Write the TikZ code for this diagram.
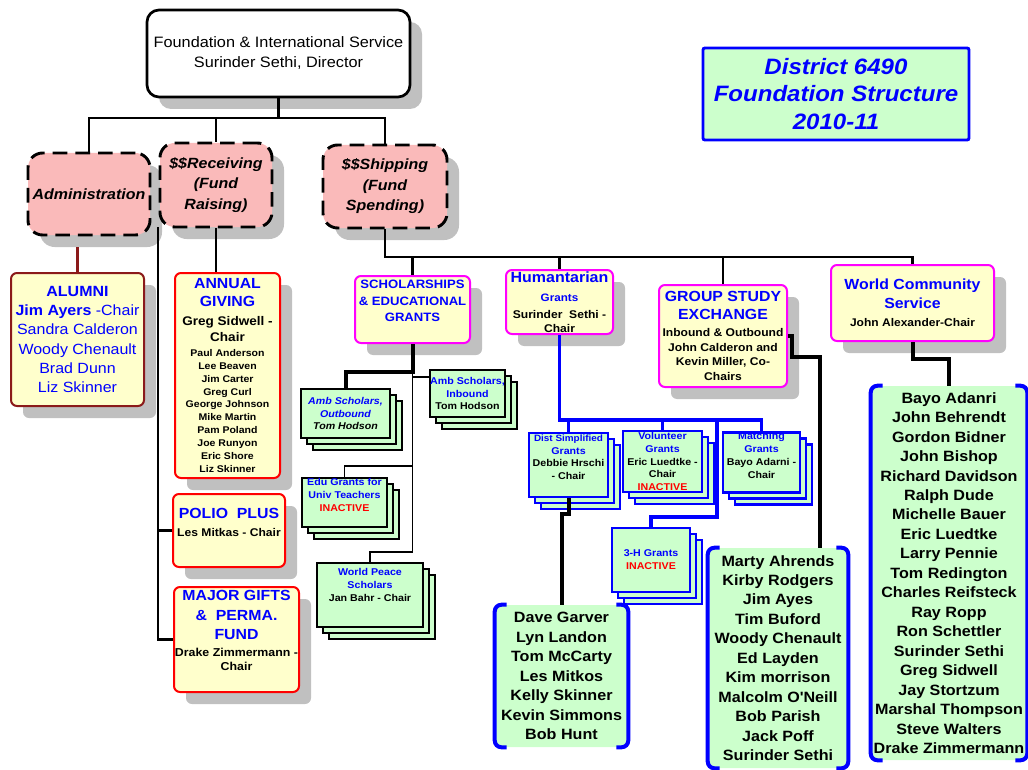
\documentclass[tikz,border=0pt]{standalone}
\usepackage{fontspec}
\setmainfont{Liberation Sans}[FakeStretch=1.08]
\usetikzlibrary{shadows}
\definecolor{pinkfill}{RGB}{250,186,186}
\definecolor{yelfill}{RGB}{255,255,204}
\definecolor{grnfill}{RGB}{204,255,204}
\definecolor{shgray}{RGB}{192,192,192}
\definecolor{dkred}{RGB}{139,26,26}
\definecolor{txtblue}{RGB}{0,0,255}
\definecolor{magbord}{RGB}{255,0,255}
\newcommand\fsz[2]{\fontsize{#1}{#2}\selectfont}
\newcommand\nolsl{\lineskiplimit=-30pt\relax}
\newcommand\hd[1]{{\color{txtblue}\fsz{11}{13}#1}}
\newcommand\dpt[1]{\rule[-#1]{0pt}{#1}}
\tikzset{
  bx/.code args={#1/#2/#3/#4}{%
    \pgfmathsetmacro\bxw{(#3-#1)*0.75}%
    \pgfmathsetmacro\bxh{(#4-#2)*0.75}%
    \pgfmathsetmacro\bxcx{(#1+#3)/2}%
    \pgfmathsetmacro\bxcy{(#2+#4)/2}%
    \edef\bxtmp{\noexpand\tikzset{minimum width=\bxw pt, minimum height=\bxh pt, at={(\bxcx,\bxcy)}}}%
    \bxtmp
  },
  shadowed/.style={drop shadow={shadow xshift=9pt, shadow yshift=-9pt, fill=shgray, opacity=1}},
  base/.style={inner sep=0pt, align=center},
  topbox/.style={base, draw=black, line width=2pt, fill=white, rounded corners=9pt, shadowed},
  titlebox/.style={base, draw=txtblue, line width=2.2pt, fill=grnfill, rounded corners=1.5pt, text=txtblue},
  pinkbox/.style={base, draw=black, line width=2.2pt, dash pattern=on 11pt off 6pt, fill=pinkfill,
     rounded corners=11pt, shadowed, font=\bfseries\itshape\fsz{11.1}{15.4}},
  yelbox/.style={base, draw=#1, line width=1.5pt, fill=yelfill, rounded corners=4.5pt, shadowed},
  stackbox/.style 2 args={base, draw=#1, line width=#2, fill=grnfill,
     copy shadow={shadow xshift=9pt, shadow yshift=-9pt, fill=grnfill, draw=#1, line width=#2, opacity=1},
     copy shadow={shadow xshift=4.5pt, shadow yshift=-4.5pt, fill=grnfill, draw=#1, line width=#2, opacity=1},
     font=\bfseries\fsz{7.4}{9.7}\nolsl},
  membox/.style={base, fill=grnfill, rounded corners=4pt, font=\bfseries\fsz{11.2}{14.6}},
  bracket/.style={draw=txtblue, line width=3pt, rounded corners=5pt},
  conn/.style={draw=black, line width=2pt},
  thickconn/.style={draw=black, line width=3pt},
  thinconn/.style={draw=black, line width=1.2pt},
  blueconn/.style={draw=txtblue, line width=2.4pt},
  redconn/.style={draw=dkred, line width=2pt},
}
\begin{document}
\begin{tikzpicture}[x=0.75pt, y=-0.75pt]
\useasboundingbox (0,0) rectangle (1028,770);

% top and title
\node[topbox, bx=147/10/410/97, font=\fsz{11.3}{15}] (top) {Foundation \& International Service\\Surinder Sethi, Director};
\node[titlebox, bx=703/48/969/140, font=\bfseries\itshape\fsz{16.7}{20.6}] (title) {District 6490\\Foundation Structure\\2010-11};

% pink boxes
\node[pinkbox, bx=28/153/150/235] (admin) {Administration};
\node[pinkbox, bx=160/143/272/227] (recv) {\$\$Receiving\\(Fund\\Raising)};
\node[pinkbox, bx=323/145/447/228] (ship) {\$\$Shipping\\(Fund\\Spending)};

% yellow boxes
\node[yelbox=dkred, bx=11/273/144/406, text=txtblue, font=\fsz{11.1}{14.5}] (alumni)
  {\textbf{ALUMNI}\\\textbf{Jim Ayers} -Chair\\Sandra Calderon\\Woody Chenault\\Brad Dunn\\Liz Skinner};
\node[yelbox=red, bx=175/273/280/478, font=\bfseries\fsz{7.3}{9.7}\nolsl] (annual)
  {\hd{ANNUAL}\\[3.8pt]\hd{GIVING}\\[4.5pt]{\fsz{9.4}{11}Greg Sidwell -}\\[2.3pt]{\fsz{9.4}{11}Chair}\\[1.5pt]Paul Anderson\\Lee Beaven\\Jim Carter\\Greg Curl\\George Johnson\\Mike Martin\\Pam Poland\\Joe Runyon\\Eric Shore\\Liz Skinner};
\node[yelbox=red, bx=173/494/285/567, font=\bfseries\fsz{8.4}{13.5}\nolsl] (polio)
  {\hd{POLIO~~PLUS}\\Les Mitkas - Chair\dpt{11.75pt}};
\node[yelbox=red, bx=174/587/299/692, font=\bfseries\fsz{8.6}{14.6}\nolsl] (major)
  {\hd{MAJOR GIFTS}\\\hd{\&~~PERMA.}\\\hd{FUND}\\[-1.85pt]Drake Zimmermann -\\[-4.1pt]Chair\dpt{13.25pt}};
\node[yelbox=magbord, bx=355/276/470/343, text=txtblue, font=\bfseries\fsz{9.1}{12.4}] (schol)
  {SCHOLARSHIPS\\\& EDUCATIONAL\\GRANTS\dpt{12.5pt}};
\node[yelbox=magbord, bx=506/270/613/334, font=\bfseries\fsz{8.4}{10.5}\nolsl] (hum)
  {{\color{txtblue}\fsz{11.1}{13}Humantarian}\\[3.75pt]{\color{txtblue}\fsz{8.1}{10}Grants}\\[2.25pt]Surinder~~Sethi -\\Chair};
\node[yelbox=magbord, bx=659/285/787/387, font=\bfseries\fsz{8.4}{10.9}\nolsl] (gse)
  {\hd{GROUP STUDY}\\[2.6pt]\hd{EXCHANGE}\\[1.85pt]Inbound \& Outbound\\John Calderon and\\Kevin Miller, Co-\\Chairs};
\node[yelbox=magbord, bx=831/265/994/341, font=\bfseries\fsz{8.35}{14.2}\nolsl] (wcs)
  {\hd{World Community}\\\hd{Service}\\[-0.7pt]John Alexander-Chair};

% stacked green boxes
\node[stackbox={black}{1.5pt}, bx=301/389/390/438] (ambout)
  {{\itshape\color{txtblue}Amb Scholars,}\\{\itshape\color{txtblue}Outbound}\\{\itshape Tom Hodson}};
\node[stackbox={black}{1.5pt}, bx=435/370/500/417] (ambin)
  {{\color{txtblue}Amb Scholars,}\\{\color{txtblue}Inbound}\\Tom Hodson};
\node[stackbox={black}{1.5pt}, bx=302/478/387/527] (edu)
  {{\color{txtblue}Edu Grants for}\\{\color{txtblue}Univ Teachers}\\{\color{red}INACTIVE\dpt{11.75pt}}};
\node[stackbox={black}{2.2pt}, bx=317/563/423/627] (wp)
  {{\color{txtblue}World Peace}\\{\color{txtblue}Scholars}\\Jan Bahr - Chair\dpt{15.5pt}};
\node[stackbox={txtblue}{2.2pt}, bx=529/433/608/497] (dist)
  {{\color{txtblue}\fsz{6.9}{9}Dist Simplified}\\{\color{txtblue}Grants}\\Debbie Hrschi\\- Chair\dpt{11.75pt}};
\node[stackbox={txtblue}{2.2pt}, bx=623/431/702/492] (vol)
  {{\color{txtblue}Volunteer}\\{\color{txtblue}Grants}\\Eric Luedtke -\\Chair\\{\color{red}INACTIVE}};
\node[stackbox={txtblue}{2.2pt}, bx=723/433/800/492] (match)
  {{\color{txtblue}Matching}\\{\color{txtblue}Grants}\\Bayo Adarni -\\Chair\dpt{10.25pt}};
\node[stackbox={txtblue}{2.2pt}, bx=612/528/690/592] (h3)
  {{\color{txtblue}3-H Grants}\\{\color{red}INACTIVE}};

% member lists
\node[membox, bx=495/605/628/747] (m1)
  {Dave Garver\\Lyn Landon\\Tom McCarty\\Les Mitkos\\Kelly Skinner\\Kevin Simmons\\Bob Hunt};
\node[membox, bx=708/548/848/768] (m2)
  {Marty Ahrends\\Kirby Rodgers\\Jim Ayes\\Tim Buford\\Woody Chenault\\Ed Layden\\Kim morrison\\Malcolm O\textquotesingle Neill\\Bob Parish\\Jack Poff\\Surinder Sethi};
\node[membox, bx=871/386/1027/760] (m3)
  {Bayo Adanri\\John Behrendt\\Gordon Bidner\\John Bishop\\Richard Davidson\\Ralph Dude\\Michelle Bauer\\Eric Luedtke\\Larry Pennie\\Tom Redington\\Charles Reifsteck\\Ray Ropp\\Ron Schettler\\Surinder Sethi\\Greg Sidwell\\Jay Stortzum\\Marshal Thompson\\Steve Walters\\Drake Zimmermann};
\foreach \m in {m1,m2,m3}{
  \draw[bracket] ([xshift=9pt]\m.north west) -- (\m.north west) -- (\m.south west) -- ([xshift=9pt]\m.south west);
  \draw[bracket] ([xshift=-9pt]\m.north east) -- (\m.north east) -- (\m.south east) -- ([xshift=-9pt]\m.south east);
}

% connectors: top level
\coordinate (b1) at (top.south |- 0,118);
\draw[conn] (top.south) -- (b1);
\draw[conn] (admin.north) |- (b1) -| (ship.north);
\draw[conn] (recv.north) -- (recv.north |- b1);
\draw[redconn] (alumni.north) -- ++(0,-25);
\draw[conn] (recv.south) -- (recv.south |- annual.north);
\coordinate (rl) at (158,227);
\draw[conn] (rl) |- (polio.west);
\draw[conn] (rl) |- (major.west);

% shipping bus
\coordinate (b2) at (ship.south |- 0,257);
\draw[conn] (ship.south) -- (b2) -| (wcs.north);
\foreach \n in {schol,hum,gse}{ \draw[conn] (\n.north) -- (\n.north |- b2); }

% scholarships
\coordinate (s1) at (schol.south |- 0,372);
\coordinate (s2) at (schol.south |- 0,552);
\coordinate (s3) at (schol.south |- 0,377);
\coordinate (s4) at (schol.south |- 0,466);
\draw[thickconn] (schol.south) -- (s1) -| (ambout.north);
\draw[thinconn] (s1) -- (s2) -| (wp.north);
\draw[thinconn] (s3) -- (s3 -| ambin.west);
\draw[thinconn] (s4) -| (edu.north);

% humanitarian
\coordinate (h1) at (hum.south |- 0,420);
\coordinate (h2) at (717,420);
\coordinate (h4) at (717,517);
\draw[blueconn] (hum.south) -- (h1) -| (match.north);
\draw[blueconn] (h1 -| dist.north) -- (dist.north);
\draw[blueconn] (h1 -| vol.north) -- (vol.north);
\draw[blueconn] (h2) -- (h4) -| (h3.north);
\draw[thickconn] (dist.south) -- ++(0,16) -| (m1.north);

% GSE
\coordinate (g1) at (792,357);
\coordinate (g2) at (820,548);
\draw[thickconn] (gse.east) -| (g1) -| (g2);

% WCS
\draw[thickconn] (wcs.south) -- ++(0,17) -| (m3.north);
\end{tikzpicture}
\end{document}
